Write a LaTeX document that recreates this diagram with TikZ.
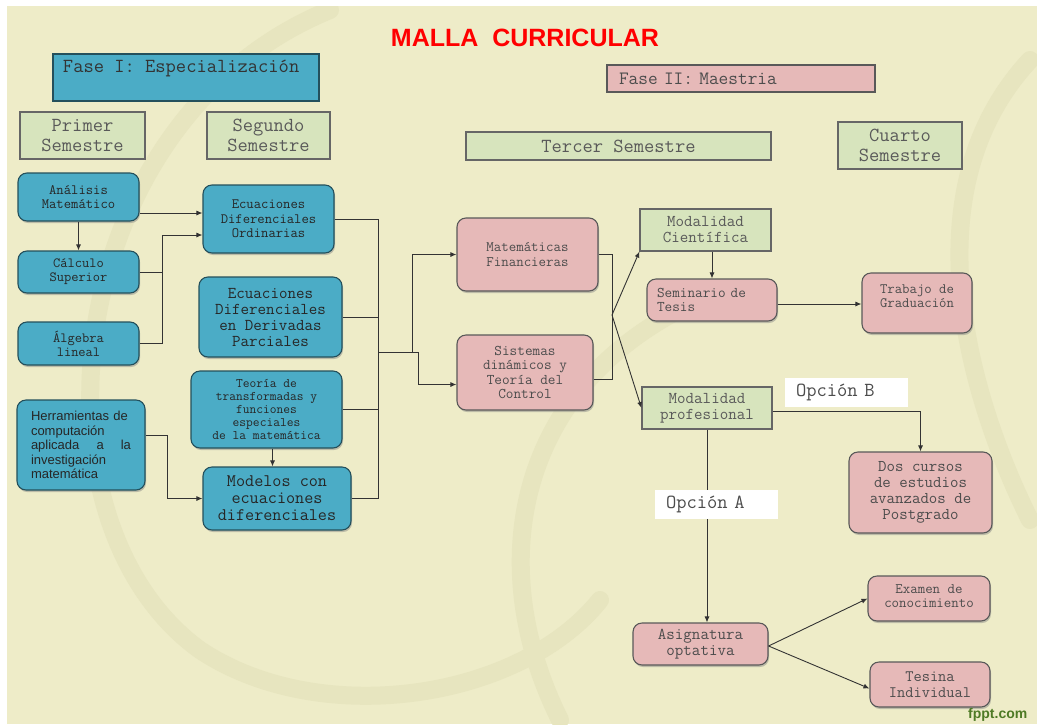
\documentclass[tikz,border=0pt]{standalone}
\usepackage{fontspec}
\setmainfont{Liberation Serif}
\setsansfont{Liberation Sans}
\usetikzlibrary{arrows.meta,shadows}

\definecolor{fondo}{HTML}{EEECC8}
\definecolor{adorno}{HTML}{E7E5BF}
\definecolor{azul}{HTML}{4BACC6}
\definecolor{azulborde}{HTML}{24505C}
\definecolor{verde}{HTML}{D7E4BD}
\definecolor{rosa}{HTML}{E6B9B8}
\definecolor{verdefppt}{HTML}{4E7A25}

% tamanos pensados para letra de 0.6em; lmtt es mas estrecha
\tikzset{
  sz/.style 2 args={font=\ttfamily\fontsize{\fpeval{#1*1.14}}{#2}\selectfont},
  caja/.style={draw, line width=1.1pt, align=center, inner sep=2pt, font=\ttfamily},
  sombra/.style={drop shadow={shadow xshift=1pt, shadow yshift=-2pt, opacity=.45}},
  bluebox/.style={caja, rounded corners=9pt, fill=azul, draw=azulborde, text=black!85},
  greenbox/.style={caja, fill=verde, draw=black!60, text=black!65},
  pinkbox/.style={caja, rounded corners=9pt, fill=rosa, draw=black!65, text=black!70},
  optbox/.style={fill=white, sz={17.5}{20}, text=black!70, align=left, text width=101pt, inner xsep=11pt, minimum height=29pt},
  arr/.style={-{Latex[length=6pt,width=5pt]}},
  conector/.style={draw=black!80, line width=0.9pt},
  swirl/.style={draw=adorno, line width=18pt, line cap=round}
}

\begin{document}
\begin{tikzpicture}[x=1pt, y=-1pt]
\useasboundingbox (0,0) rectangle (1037,724);
\fill[white] (0,0) rectangle (1037,724);
\fill[fondo] (7,6) rectangle (1037,724);
\begin{scope}
\clip (7,6) rectangle (1037,724);
\draw[swirl] (330,10) .. controls (60,120) and (20,520) .. (200,650) .. controls (320,730) and (520,700) .. (600,600);
\draw[swirl] (560,720) .. controls (480,560) and (520,380) .. (700,300);
\draw[swirl] (1030,60) .. controls (900,200) and (980,420) .. (1030,520);
\end{scope}

\node[font=\sffamily\bfseries\fontsize{25}{30}\selectfont, text=red] (titulo) at (525,38) {MALLA~~CURRICULAR};

% fases y semestres
\node[bluebox, sharp corners, minimum width=266pt, minimum height=47pt,
  label={[anchor=north west, xshift=7pt, yshift=-3pt, sz={17.5}{20}, text=black!80]north west:Fase I: Especialización}] (fase1) at (186,77.5) {};
\node[pinkbox, sharp corners, sz={16.5}{19}, minimum height=27pt, text width=244pt, inner xsep=12pt, align=left] (fase2) at (741,78.5) {Fase II: Maestria};

\node[greenbox, minimum width=125pt, minimum height=47pt, sz={17.5}{20}] (primer) at (82.5,135.5) {Primer\\Semestre};
\node[greenbox, minimum width=123pt, minimum height=47pt, sz={17.5}{20}] (segundo) at (268.5,135.5) {Segundo\\Semestre};
\node[greenbox, minimum width=305pt, minimum height=28pt, sz={17.5}{20}] (tercer) at (618.5,146) {Tercer Semestre};
\node[greenbox, minimum width=124pt, minimum height=47pt, sz={17.5}{20}] (cuarto) at (900,145.5) {Cuarto\\Semestre};

% primer semestre
\node[bluebox, sombra, minimum width=121pt, minimum height=48pt, sz={12.5}{14.5}] (analisis) at (78.5,197) {Análisis\\Matemático};
\node[bluebox, sombra, minimum width=121pt, minimum height=42pt, sz={12.3}{14}] (calculo) at (78.5,272) {Cálculo\\Superior};
\node[bluebox, sombra, minimum width=121pt, minimum height=43pt, sz={12.3}{14}] (algebra) at (78.5,343.5) {Álgebra\\lineal};
\node[bluebox, sombra, minimum width=128pt, minimum height=90pt, font=\sffamily\fontsize{13}{14.5}\selectfont, text width=100pt, align=left] (herram) at (81,445)
  {Herramientas de\\computación\\aplicada\hfill a\hfill la\\investigación\\matemática};

% segundo semestre
\node[bluebox, sombra, minimum width=131pt, minimum height=68pt, sz={12.5}{14.5}] (edo) at (268.5,219) {Ecuaciones\\Diferenciales\\Ordinarias};
\node[bluebox, sombra, minimum width=143pt, minimum height=80pt, sz={14.5}{16}] (edp) at (270.5,317) {Ecuaciones\\Diferenciales\\en Derivadas\\Parciales};
\node[bluebox, sombra, minimum width=151pt, minimum height=77pt, sz={11.5}{12.8}] (teoria) at (266.5,409.5) {Teoría de\\transformadas y\\funciones\\especiales\\de la matemática};
\node[bluebox, sombra, minimum width=148pt, minimum height=63pt, sz={15.5}{17}] (modelos) at (277,498.5) {Modelos con\\ecuaciones\\diferenciales};

% tercer semestre
\node[pinkbox, sombra, minimum width=141pt, minimum height=73pt, sz={12.7}{14.5}] (matfin) at (527.5,254.5) {Matemáticas\\Financieras};
\node[pinkbox, sombra, minimum width=136pt, minimum height=75pt, sz={13}{14.5}] (sistemas) at (525,372.5) {Sistemas\\dinámicos y\\Teoría del\\Control};
\node[greenbox, minimum width=131pt, minimum height=42pt, sz={14.5}{16}] (modcien) at (705.5,230) {Modalidad\\Científica};
\node[greenbox, minimum width=130pt, minimum height=42pt, sz={14.5}{16}] (modprof) at (707,408) {Modalidad\\profesional};
\node[pinkbox, sombra, minimum width=130pt, minimum height=42pt, sz={13}{14.5}, text width=110pt, inner xsep=10pt, align=left] (seminario) at (712,300) {Seminario de\\Tesis};
\node[pinkbox, sombra, minimum width=135pt, minimum height=42pt, sz={14.5}{16}] (asign) at (700.5,644) {Asignatura\\optativa};

% cuarto semestre
\node[pinkbox, sombra, minimum width=110pt, minimum height=60pt, sz={12.6}{14}, text depth=14pt] (trabajo) at (917,303) {Trabajo de\\Graduación};
\node[pinkbox, sombra, minimum width=143pt, minimum height=81pt, sz={14.4}{16}] (dos) at (920.5,492.5) {Dos cursos\\de estudios\\avanzados de\\Postgrado};
\node[pinkbox, sombra, minimum width=122pt, minimum height=45pt, sz={12.7}{14}, text depth=5pt] (examen) at (929,598.5) {Examen de\\conocimiento};
\node[pinkbox, sombra, minimum width=120pt, minimum height=45pt, sz={14}{16}] (tesina) at (930,684.5) {Tesina\\Individual};

% conectores
\coordinate (unionA) at (162,235);
\coordinate (bus) at (378,352);
\coordinate (bus2) at (612,315);

\draw[conector, arr] ([yshift=-16pt]analisis.east) -- ([yshift=-16pt]analisis.east -| edo.west);
\draw[conector, arr] (analisis.south) -- (calculo.north);
\draw[conector] (calculo.east) -| (unionA);
\draw[conector, arr] (algebra.east) -| (unionA) -- (unionA -| edo.west);
\draw[conector, arr] ([yshift=10pt]herram.east) -- ++(22,0) |- (modelos.west);
\draw[conector, arr] ([xshift=6pt]teoria.south) -- ([xshift=6pt]teoria.south |- modelos.north);

\draw[conector] (edo.east) -| (bus);
\draw[conector] (modelos.east) -| (bus);
\draw[conector] (edp.east) -- (edp.east -| bus);
\draw[conector] (teoria.east) -- (teoria.east -| bus);
\draw[conector, arr] (bus) -- ++(34,0) |- (matfin.west);
\draw[conector, arr] (bus) -- ++(40,0) |- ([yshift=-12pt]sistemas.west);

\draw[conector] (matfin.east) -| (bus2);
\draw[conector] ([yshift=-7pt]sistemas.east) -| (bus2);
\draw[conector, arr] (bus2) -- (modcien.south west);
\draw[conector, arr] (bus2) -- (modprof.west);

\draw[conector, arr] (seminario.north |- modcien.south) -- (seminario.north);
\draw[conector, arr] ([yshift=-4pt]seminario.east) -- ([yshift=-4pt]seminario.east -| trabajo.west);
\draw[conector, arr] ([yshift=-3pt]modprof.east) -| (dos.north);
\draw[conector, arr] (modprof.south) -- (modprof.south |- asign.north);
\draw[conector, arr] ([yshift=-2pt]asign.east) -- (examen.west);
\draw[conector, arr] ([yshift=-2pt]asign.east) -- ([yshift=-4pt]tesina.west);

% etiquetas de opciones encima de las lineas
\node[optbox] (opcionB) at (846.5,392.5) {Opción B};
\node[optbox] (opcionA) at (716.5,504.5) {Opción A};

\node[anchor=south west, inner sep=0pt, font=\sffamily\bfseries\fontsize{14}{16}\selectfont, text=verdefppt] (fppt) at (968,722) {fppt.com};

\end{tikzpicture}
\end{document}
